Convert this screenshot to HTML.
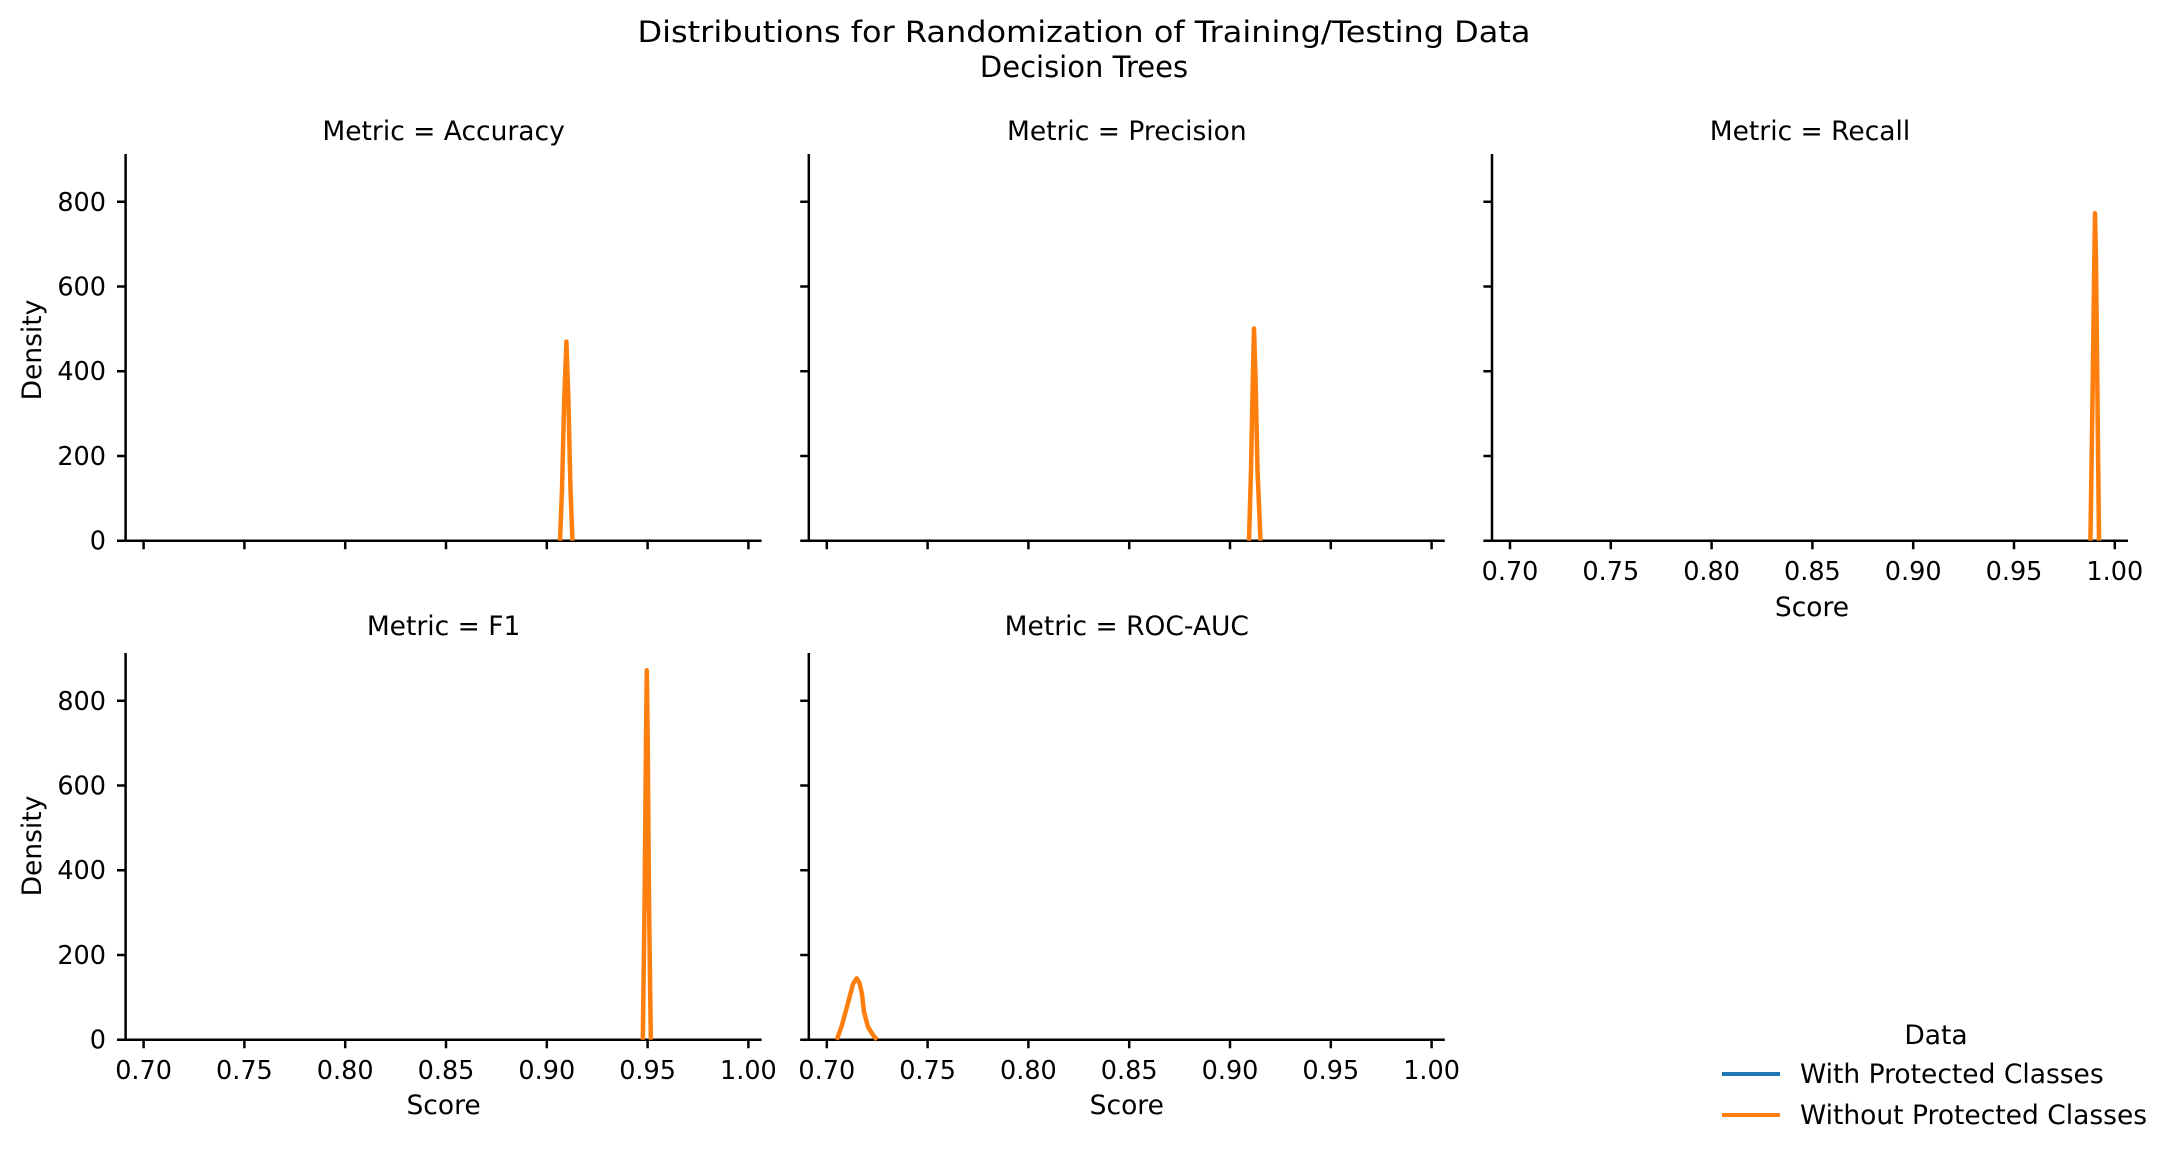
<!DOCTYPE html>
<html><head><meta charset="utf-8"><style>
html,body{margin:0;padding:0;background:#fff;}
svg{display:block;}
text{font-family:"DejaVu Sans","Liberation Sans",sans-serif;fill:#000;}
</style></head><body>
<svg width="2171" height="1154" viewBox="0 0 2171 1154" xmlns="http://www.w3.org/2000/svg">
<rect width="2171" height="1154" fill="#fff"/>
<text x="1084" y="42" font-size="29" text-anchor="middle" textLength="893" lengthAdjust="spacingAndGlyphs">Distributions for Randomization of Training/Testing Data</text>
<text x="1084" y="77" font-size="29" text-anchor="middle">Decision Trees</text>

<g font-size="26.5" text-anchor="middle">
<text x="443.6" y="140">Metric = Accuracy</text>
<text x="1126.8" y="140">Metric = Precision</text>
<text x="1810" y="140">Metric = Recall</text>
<text x="443.6" y="635">Metric = F1</text>
<text x="1126.8" y="635">Metric = ROC-AUC</text>
</g>

<g stroke="#000" stroke-width="2.5" fill="none">
<path d="M125.6 154V540.7H761.6"/>
<path d="M808.8 154V540.7H1444.8"/>
<path d="M1492 154V540.7H2128"/>
<path d="M125.6 653V1039.7H761.6"/>
<path d="M808.8 653V1039.7H1444.8"/>
<path d="M117 540.7h8.6M117 456h8.6M117 371.2h8.6M117 286.5h8.6M117 201.8h8.6"/>
<path d="M800.2 540.7h8.6M800.2 456h8.6M800.2 371.2h8.6M800.2 286.5h8.6M800.2 201.8h8.6"/>
<path d="M1483.4 540.7h8.6M1483.4 456h8.6M1483.4 371.2h8.6M1483.4 286.5h8.6M1483.4 201.8h8.6"/>
<path d="M117 1039.7h8.6M117 955h8.6M117 870.2h8.6M117 785.5h8.6M117 700.8h8.6"/>
<path d="M800.2 1039.7h8.6M800.2 955h8.6M800.2 870.2h8.6M800.2 785.5h8.6M800.2 700.8h8.6"/>
<path d="M143.6 540.7v8.6M244.4 540.7v8.6M345.2 540.7v8.6M446 540.7v8.6M546.8 540.7v8.6M647.6 540.7v8.6M748.4 540.7v8.6"/>
<path d="M826.8 540.7v8.6M927.6 540.7v8.6M1028.4 540.7v8.6M1129.2 540.7v8.6M1230 540.7v8.6M1330.8 540.7v8.6M1431.6 540.7v8.6"/>
<path d="M1510 540.7v8.6M1610.8 540.7v8.6M1711.6 540.7v8.6M1812.4 540.7v8.6M1913.2 540.7v8.6M2014 540.7v8.6M2114.8 540.7v8.6"/>
<path d="M143.6 1039.7v8.6M244.4 1039.7v8.6M345.2 1039.7v8.6M446 1039.7v8.6M546.8 1039.7v8.6M647.6 1039.7v8.6M748.4 1039.7v8.6"/>
<path d="M826.8 1039.7v8.6M927.6 1039.7v8.6M1028.4 1039.7v8.6M1129.2 1039.7v8.6M1230 1039.7v8.6M1330.8 1039.7v8.6M1431.6 1039.7v8.6"/>
</g>

<g font-size="25.5" text-anchor="end">
<text x="106" y="549.7">0</text><text x="106" y="465">200</text><text x="106" y="380.2">400</text><text x="106" y="295.5">600</text><text x="106" y="210.8">800</text>
<text x="106" y="1048.7">0</text><text x="106" y="964">200</text><text x="106" y="879.2">400</text><text x="106" y="794.5">600</text><text x="106" y="709.8">800</text>
</g>
<g font-size="26.5" text-anchor="middle">
<text transform="translate(41 350) rotate(-90)">Density</text>
<text transform="translate(41 846) rotate(-90)">Density</text>
</g>
<g font-size="25.5" text-anchor="middle">
<text x="1510" y="580">0.70</text><text x="1610.8" y="580">0.75</text><text x="1711.6" y="580">0.80</text><text x="1812.4" y="580">0.85</text><text x="1913.2" y="580">0.90</text><text x="2014" y="580">0.95</text><text x="2114.8" y="580">1.00</text>
<text x="143.6" y="1079">0.70</text><text x="244.4" y="1079">0.75</text><text x="345.2" y="1079">0.80</text><text x="446" y="1079">0.85</text><text x="546.8" y="1079">0.90</text><text x="647.6" y="1079">0.95</text><text x="748.4" y="1079">1.00</text>
<text x="826.8" y="1079">0.70</text><text x="927.6" y="1079">0.75</text><text x="1028.4" y="1079">0.80</text><text x="1129.2" y="1079">0.85</text><text x="1230" y="1079">0.90</text><text x="1330.8" y="1079">0.95</text><text x="1431.6" y="1079">1.00</text>
</g>
<g font-size="26.5" text-anchor="middle">
<text x="1812" y="616">Score</text>
<text x="443.6" y="1114">Score</text>
<text x="1126.8" y="1114">Score</text>
</g>

<g stroke="#ff7f0e" stroke-width="4.5" fill="none" stroke-linejoin="round">
<polyline points="560,540.7 562,490 564.2,400 566.4,341.6 568.4,400 570.5,490 572.5,540.7"/>
<polyline points="1249,540.7 1251,470 1252.8,380 1254,328.5 1255.6,380 1257.5,470 1260.5,540.7"/>
<polyline points="2090.4,540.7 2092.5,400 2094.3,260 2095,213.3 2096,260 2097.5,400 2099,540.7"/>
<polyline points="642.8,1039.7 644.6,900 646,740 646.8,670.2 647.7,740 649,900 650.8,1039.7"/>
<polyline points="836.8,1039.7 842,1025 848,1003 853,984 856.7,978.3 859.5,983 862,994 864,1012 868,1027 873,1035 877,1039.7"/>
</g>

<text x="1936" y="1044" font-size="26.5" text-anchor="middle">Data</text>
<line x1="1722" y1="1074" x2="1780" y2="1074" stroke="#1f77b4" stroke-width="4"/>
<line x1="1722" y1="1115" x2="1780" y2="1115" stroke="#ff7f0e" stroke-width="4"/>
<text x="1800" y="1083" font-size="26.5">With Protected Classes</text>
<text x="1800" y="1124" font-size="26.5">Without Protected Classes</text>
</svg>
</body></html>
